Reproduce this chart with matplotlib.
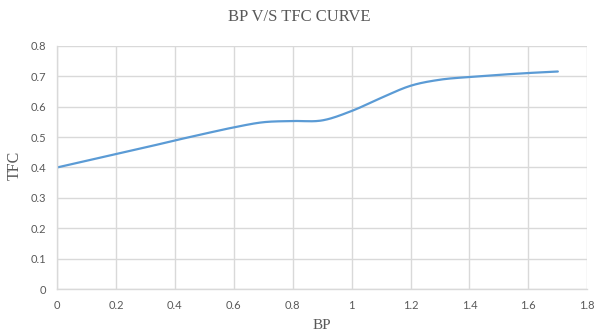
import numpy as np
import matplotlib
matplotlib.use("Agg")
import matplotlib.pyplot as plt

# Brake power vs total fuel consumption
bp = [0.0, 0.1, 0.2, 0.3, 0.4, 0.5, 0.6, 0.7, 0.8, 0.9,
      1.0, 1.1, 1.2, 1.3, 1.4, 1.5, 1.6, 1.7]
tfc = [0.400, 0.422, 0.444, 0.466, 0.489, 0.511, 0.532, 0.549, 0.553, 0.555,
       0.586, 0.629, 0.669, 0.689, 0.698, 0.705, 0.711, 0.716]

x_ticks = [0, 0.2, 0.4, 0.6, 0.8, 1, 1.2, 1.4, 1.6, 1.8]
y_ticks = [0, 0.1, 0.2, 0.3, 0.4, 0.5, 0.6, 0.7, 0.8]


def smooth_curve(xs, ys, n=30, tension=1.0 / 6.0):
    """Cardinal-spline smoothing through every data point (spreadsheet style)."""
    xs = np.asarray(xs, float)
    ys = np.asarray(ys, float)
    px = np.concatenate([[xs[0]], xs, [xs[-1]]])
    py = np.concatenate([[ys[0]], ys, [ys[-1]]])
    out_x, out_y = [], []
    t = np.linspace(0, 1, n)
    for i in range(1, len(px) - 2):
        p0 = np.array([px[i], py[i]])
        p3 = np.array([px[i + 1], py[i + 1]])
        c1 = p0 + tension * (np.array([px[i + 1], py[i + 1]]) - np.array([px[i - 1], py[i - 1]]))
        c2 = p3 - tension * (np.array([px[i + 2], py[i + 2]]) - np.array([px[i], py[i]]))
        b = ((1 - t) ** 3)[:, None] * p0 + (3 * (1 - t) ** 2 * t)[:, None] * c1 \
            + (3 * (1 - t) * t ** 2)[:, None] * c2 + (t ** 3)[:, None] * p3
        out_x.extend(b[:, 0])
        out_y.extend(b[:, 1])
    return np.array(out_x), np.array(out_y)


fig = plt.figure(figsize=(5.96, 3.33), dpi=100)
ax = fig.add_axes([0.0956, 0.1321, 0.8898, 0.7298])

sx, sy = smooth_curve(bp, tfc)
ax.plot(sx, sy, color="#5B9BD5", linewidth=1.6, solid_capstyle="round")

ax.set_xlim(0, 1.8)
ax.set_ylim(0, 0.8)
ax.set_xticks(x_ticks)
ax.set_yticks(y_ticks)
ax.set_xticklabels([f"{v:g}" for v in x_ticks])
ax.set_yticklabels([f"{v:g}" for v in y_ticks])

ax.grid(True, color="#D9D9D9", linewidth=1.0)
ax.set_axisbelow(True)
for side in ["top", "right"]:
    ax.spines[side].set_visible(False)
for side in ["left", "bottom"]:
    ax.spines[side].set_color("#D9D9D9")
    ax.spines[side].set_linewidth(1.0)
ax.tick_params(length=0, pad=8, labelsize=8, labelcolor="#595959")
for lbl in ax.get_xticklabels() + ax.get_yticklabels():
    lbl.set_fontfamily("Lato")

serif = "Liberation Serif"
fig.text(0.502, 0.948, "BP V/S TFC CURVE", ha="center", va="center",
         family=serif, fontsize=12, color="#595959")
fig.text(0.540, 0.022, "BP", ha="center", va="center",
         family=serif, fontsize=11, color="#595959")
fig.text(0.025, 0.503, "TFC", ha="center", va="center", rotation=90,
         family=serif, fontsize=11.5, color="#595959")

fig.savefig("out.png", dpi=100)
